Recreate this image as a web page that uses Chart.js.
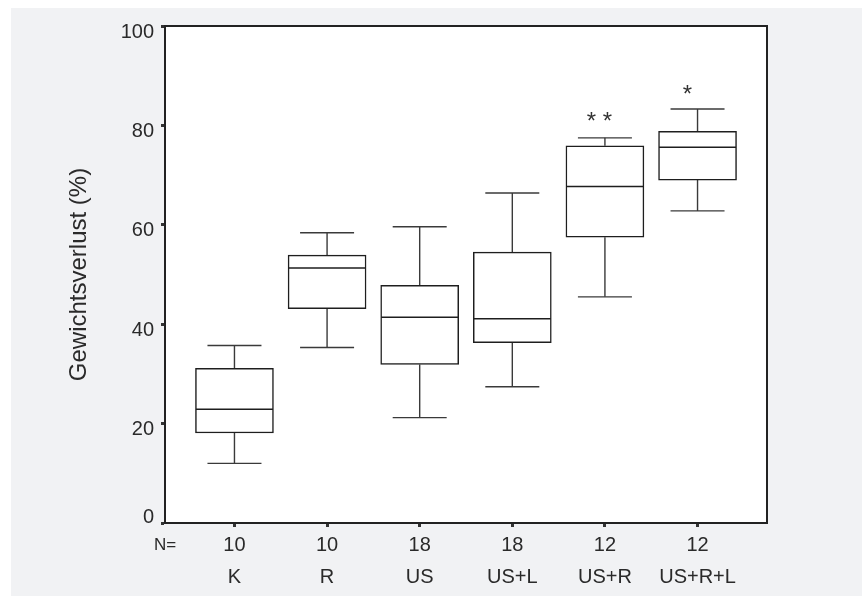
<!DOCTYPE html>
<html>
<head>
<meta charset="utf-8">
<script src="https://cdn.jsdelivr.net/npm/chart.js@4"></script>
<style>
  html, body { margin: 0; padding: 0; background: #fff; }
  #wrap { width: 862px; height: 596px; position: relative; }
</style>
</head>
<body>
<div id="wrap"><canvas id="chart"></canvas></div>
<script>
const categories = ['K', 'R', 'US', 'US+L', 'US+R', 'US+R+L'];
const nValues = ['10', '10', '18', '18', '12', '12'];
const whiskerLow = [12.0, 35.3, 21.2, 27.4, 45.5, 62.8];
const q1 = [18.1, 43.1, 31.9, 36.3, 57.5, 69.0];
const median = [22.9, 51.3, 41.4, 41.1, 67.7, 75.6];
const q3 = [31.1, 53.9, 47.8, 54.5, 75.9, 78.8];
const whiskerHigh = [35.7, 58.4, 59.6, 66.4, 77.5, 83.3];
const starLabels = ['', '', '', '', '* *', '*'];
const starValues = [null, null, null, null, 80.6, 86.0];

const FONT = 'Liberation Sans, Arial, sans-serif';
const xs = categories.map((c, i) => i + 1);

// whisker stems, split with null gaps
const stems = [];
xs.forEach((x, i) => {
    stems.push({x: x, y: whiskerHigh[i]}, {x: x, y: q3[i]}, {x: x, y: null});
    stems.push({x: x, y: q1[i]}, {x: x, y: whiskerLow[i]}, {x: x, y: null});
});

const caps = [];
xs.forEach((x, i) => {
    caps.push({x: x, y: whiskerLow[i]}, {x: x, y: whiskerHigh[i]});
});

const backgroundPlugin = {
    id: 'background',
    beforeDraw(chart) {
        const {ctx, chartArea: a} = chart;
        ctx.save();
        ctx.fillStyle = '#ffffff';
        ctx.fillRect(0, 0, chart.width, chart.height);
        ctx.fillStyle = '#f1f2f4';
        ctx.fillRect(11, 8, chart.width - 11, chart.height - 8);
        ctx.fillStyle = '#ffffff';
        ctx.fillRect(a.left, a.top, a.right - a.left, a.bottom - a.top);
        ctx.restore();
    },
    afterDraw(chart) {
        const {ctx, chartArea: a} = chart;
        ctx.save();
        ctx.strokeStyle = '#222';
        ctx.lineWidth = 2;
        ctx.strokeRect(a.left, a.top, a.right - a.left, a.bottom - a.top);
        ctx.restore();
    }
};

const starPlugin = {
    id: 'stars',
    afterDatasetsDraw(chart) {
        const {ctx, scales: {x, y}} = chart;
        ctx.save();
        ctx.fillStyle = '#333';
        ctx.font = '24px ' + FONT;
        ctx.textAlign = 'center';
        ctx.textBaseline = 'middle';
        starLabels.forEach((s, i) => {
            if (!s) return;
            const shift = s.length === 1 ? 0.11 : 0.06;
            ctx.fillText(s, x.getPixelForValue(xs[i] - shift), y.getPixelForValue(starValues[i]));
        });
        ctx.restore();
    }
};

new Chart(document.getElementById('chart'), {
    data: {
        datasets: [
            {
                type: 'bar',
                data: xs.map((x, i) => ({x: x, y: [q1[i], q3[i]]})),
                backgroundColor: '#ffffff',
                borderColor: '#1e1e1e',
                borderWidth: 1.5,
                borderSkipped: false,
                barThickness: 78,
                grouped: false,
                order: 2
            },
            {
                type: 'line',
                data: stems,
                borderColor: '#3a3a3a',
                borderWidth: 1.4,
                pointRadius: 0,
                spanGaps: false,
                order: 3
            },
            {
                type: 'scatter',
                data: caps,
                pointStyle: 'line',
                pointRadius: 27,
                pointBorderColor: '#3a3a3a',
                pointBorderWidth: 1.4,
                order: 1
            },
            {
                type: 'scatter',
                data: xs.map((x, i) => ({x: x, y: median[i]})),
                pointStyle: 'line',
                pointRadius: 38.5,
                pointBorderColor: '#1e1e1e',
                pointBorderWidth: 1.5,
                order: 0
            }
        ]
    },
    options: {
        responsive: true,
        maintainAspectRatio: false,
        animation: false,
        events: [],
        layout: { autoPadding: false, padding: { left: 0, top: 26, right: 95, bottom: 0 } },
        plugins: { legend: { display: false }, tooltip: { enabled: false } },
        scales: {
            x: {
                type: 'linear',
                offset: false,
                min: 0.25,
                max: 6.75,
                afterBuildTicks(scale) {
                    scale.ticks = [0.25].concat(xs).map(v => ({value: v}));
                },
                afterFit(scale) {
                    scale.height = 73;
                    scale.paddingLeft = 0;
                    scale.paddingRight = 0;
                },
                grid: {
                    offset: false,
                    drawOnChartArea: false,
                    tickLength: 4,
                    tickWidth: 3,
                    tickColor: ctx => (ctx.tick && ctx.tick.value === 0.25) ? 'rgba(0,0,0,0)' : '#333'
                },
                border: { color: '#222', width: 2 },
                ticks: {
                    padding: 2,
                    color: '#2a2a2a',
                    autoSkip: false,
                    maxRotation: 0,
                    font: ctx => ({
                        family: FONT,
                        size: (ctx.tick && ctx.tick.value === 0.25) ? 17 : 20,
                        lineHeight: '32px'
                    }),
                    callback(value) {
                        if (value === 0.25) return ['N=', ''];
                        const i = xs.indexOf(value);
                        return [nValues[i], categories[i]];
                    }
                }
            },
            y: {
                min: 0,
                max: 100,
                afterFit(scale) {
                    scale.width = 165;
                    scale.paddingTop = 0;
                    scale.paddingBottom = 0;
                },
                grid: {
                    drawOnChartArea: false,
                    tickLength: 4,
                    tickWidth: 3,
                    tickColor: '#333'
                },
                border: { color: '#222', width: 2 },
                ticks: {
                    stepSize: 20,
                    padding: 7,
                    color: '#2a2a2a',
                    font: { family: FONT, size: 20, lineHeight: '12px' },
                    callback(value) {
                        return value === 0 ? [String(value), ''] : ['', String(value)];
                    }
                },
                title: {
                    display: true,
                    text: 'Gewichtsverlust (%)',
                    color: '#2a2a2a',
                    font: { family: FONT, size: 24, lineHeight: 1.2 },
                    padding: { top: 65, bottom: 0 }
                }
            }
        }
    },
    plugins: [backgroundPlugin, starPlugin]
});
</script>
</body>
</html>
